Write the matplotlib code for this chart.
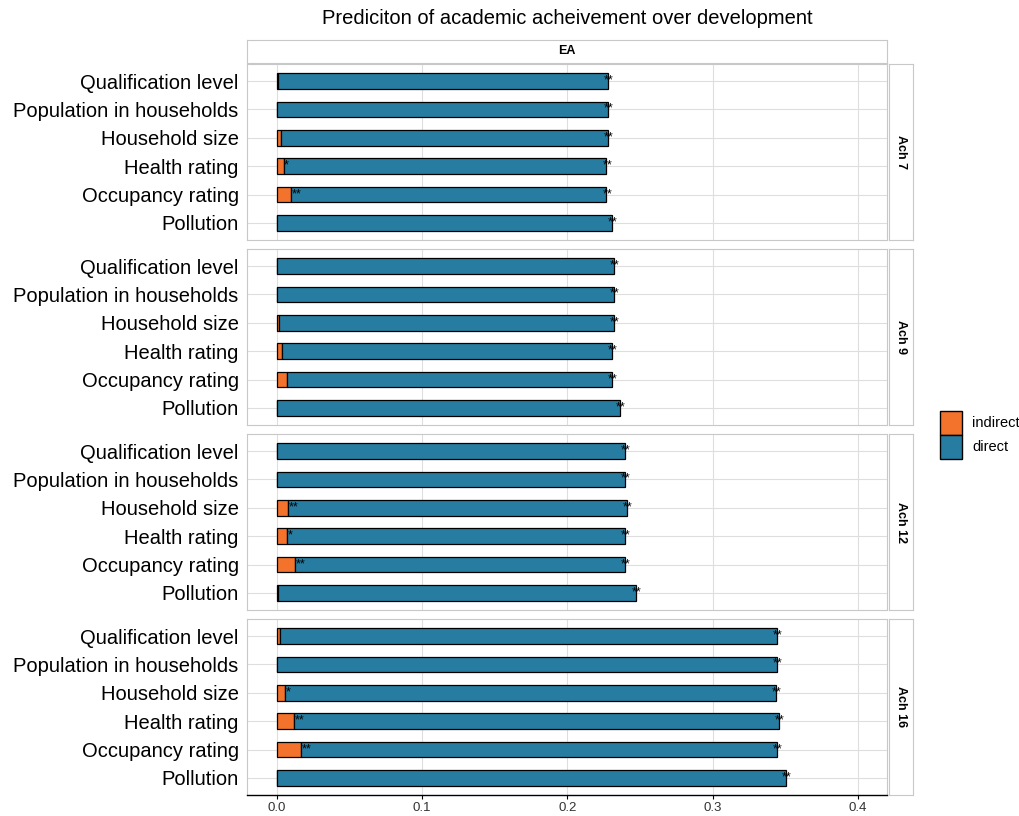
import matplotlib
matplotlib.use("Agg")
import matplotlib.pyplot as plt
import numpy as np
from matplotlib.patches import Rectangle

plt.rcParams['font.family'] = ['Liberation Sans', 'DejaVu Sans']

# data
predictors = ["Qualification level", "Population in households", "Household size",
              "Health rating", "Occupancy rating", "Pollution"]
waves = ["Ach 7", "Ach 9", "Ach 12", "Ach 16"]

indirect_7 = [0.001, 0.0, 0.003, 0.005, 0.010, 0.0]
direct_7 = [0.227, 0.228, 0.225, 0.222, 0.217, 0.231]
indirect_9 = [0.0, 0.0, 0.002, 0.004, 0.007, 0.0]
direct_9 = [0.232, 0.232, 0.230, 0.227, 0.224, 0.236]
indirect_12 = [0.0, 0.0, 0.008, 0.0075, 0.013, 0.001]
direct_12 = [0.240, 0.240, 0.233, 0.2325, 0.227, 0.246]
indirect_16 = [0.0025, 0.0, 0.006, 0.012, 0.017, 0.0]
direct_16 = [0.3415, 0.344, 0.3375, 0.3335, 0.327, 0.3505]

sig_ind_7 = ["", "", "", "*", "**", ""]
sig_ind_9 = ["", "", "", "", "", ""]
sig_ind_12 = ["", "", "**", "*", "**", ""]
sig_ind_16 = ["", "", "*", "**", "**", ""]
sig_dir = ["**", "**", "**", "**", "**", "**"]

indirects = [indirect_7, indirect_9, indirect_12, indirect_16]
directs = [direct_7, direct_9, direct_12, direct_16]
sig_inds = [sig_ind_7, sig_ind_9, sig_ind_12, sig_ind_16]

c_ind = "#f3722c"
c_dir = "#277da1"
grid_c = "#dedede"
border_c = "#c8c8c8"

W, H = 1020, 816
fig = plt.figure(figsize=(W / 100, H / 100), dpi=100)


def px(x0, y0, x1, y1):
    return [x0 / W, 1 - y1 / H, (x1 - x0) / W, (y1 - y0) / H]


left, right = 247, 887
tops = [64, 249, 434, 619]
ph = 176

ypos = np.arange(len(predictors))[::-1]
for k, top in enumerate(tops):
    ax = fig.add_axes(px(left, top, right, top + ph))
    ind = np.array(indirects[k])
    dr = np.array(directs[k])
    ax.barh(ypos, ind, height=0.55, color=c_ind, edgecolor="black", linewidth=0.9, zorder=3)
    ax.barh(ypos, dr, left=ind, height=0.55, color=c_dir, edgecolor="black", linewidth=0.9, zorder=3)
    for i in range(len(predictors)):
        if sig_inds[k][i]:
            ax.text(ind[i] + 0.0003, ypos[i] + 0.02, sig_inds[k][i], fontsize=9, ha="left",
                    va="center", zorder=4)
        ax.text(ind[i] + dr[i] + 0.0005, ypos[i] + 0.02, sig_dir[i], fontsize=9, ha="center",
                va="center", zorder=4)
    ax.set_xlim(-0.0203, 0.42)
    ax.set_ylim(-0.6, len(predictors) - 0.4)
    ax.set_xticks([0, 0.1, 0.2, 0.3, 0.4])
    ax.set_yticks(ypos)
    ax.set_yticklabels(predictors, fontsize=14.5)
    ax.tick_params(axis="y", length=0, pad=6)
    ax.grid(True, color=grid_c, linewidth=0.8, zorder=0)
    ax.set_axisbelow(True)
    for s in ax.spines.values():
        s.set_color(border_c)
        s.set_linewidth(0.8)
    if k == len(tops) - 1:
        ax.spines["bottom"].set_color("black")
        ax.spines["bottom"].set_linewidth(1.0)
        ax.set_xticklabels(["0.0", "0.1", "0.2", "0.3", "0.4"], fontsize=9.5, color="#333333")
        ax.tick_params(axis="x", length=3, color="black", pad=2)
    else:
        ax.tick_params(axis="x", length=0, labelbottom=False)

    # right strip
    sax = fig.add_axes(px(889, top, 913, top + ph))
    sax.set_xticks([])
    sax.set_yticks([])
    for s in sax.spines.values():
        s.set_color(border_c)
        s.set_linewidth(0.8)
    sax.text(0.5, 0.5, waves[k], rotation=-90, ha="center", va="center", fontsize=9,
             fontweight="bold", transform=sax.transAxes)

# top strip
tax = fig.add_axes(px(left, 40, right, 63))
tax.set_xticks([])
tax.set_yticks([])
for s in tax.spines.values():
    s.set_color(border_c)
    s.set_linewidth(0.8)
tax.text(0.5, 0.5, "EA", ha="center", va="center", fontsize=9, fontweight="bold",
         transform=tax.transAxes)

fig.text((left + right) / 2 / W, 1 - 18 / H, "Prediciton of academic acheivement over development",
         ha="center", va="center", fontsize=14.5)

# legend
lw_k = 22
fig.patches.append(Rectangle((940 / W, 1 - 435 / H), lw_k / W, 24 / H, transform=fig.transFigure,
                             facecolor=c_ind, edgecolor="black", linewidth=1.0))
fig.patches.append(Rectangle((940 / W, 1 - 459 / H), lw_k / W, 24 / H, transform=fig.transFigure,
                             facecolor=c_dir, edgecolor="black", linewidth=1.0))
fig.text(972 / W, 1 - 423 / H, "indirect", ha="left", va="center", fontsize=10.5)
fig.text(972 / W, 1 - 447 / H, "direct", ha="left", va="center", fontsize=10.5)

fig.savefig("out.png", dpi=100)
